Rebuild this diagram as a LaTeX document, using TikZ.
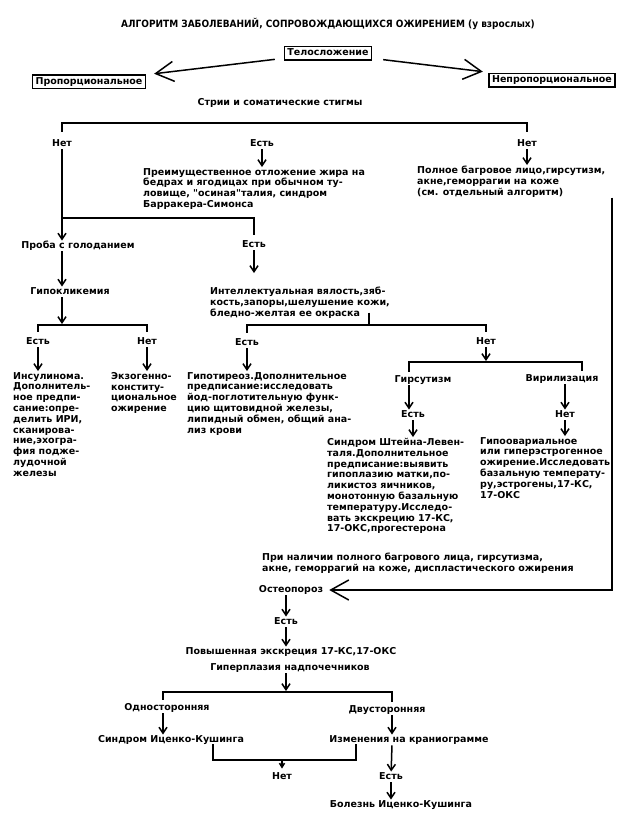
\documentclass[tikz,border=0pt]{standalone}
\usepackage{fontspec}
\setmainfont{DejaVu Sans}
\newfontfamily\schemefont{DejaVu Sans}
\newfontfamily\titlefont{DejaVu Sans Condensed}
\usetikzlibrary{arrows.meta}
\tikzset{
    % single line label
    lbl/.style={inner sep=0pt, text height=7pt, text depth=1.5pt,
        font=\schemefont\bfseries\fontsize{9.5}{10.8}\selectfont},
    % block of text, left aligned, placed by its top left corner
    blk/.style={inner sep=0pt, align=left, anchor=north west,
        font=\schemefont\bfseries\fontsize{9.5}{10.8}\selectfont},
    % framed label
    frm/.style={lbl, draw, line width=1.5pt, inner xsep=3pt, inner ysep=2.5pt},
    conn/.style={line width=1.5pt},
    arr/.style={conn, -{Straight Barb[length=6pt,width=8pt]}, shorten <=1pt, shorten >=1pt},
    bigarr/.style={conn, -{Straight Barb[length=18pt,width=20pt]}}
}
\begin{document}
\begin{tikzpicture}[x=1pt,y=-1pt]
\useasboundingbox (0,0) rectangle (622,820);

\node[lbl, font=\titlefont\bfseries\fontsize{10}{11}\selectfont] (title) at (328,25)
    {АЛГОРИТМ ЗАБОЛЕВАНИЙ, СОПРОВОЖДАЮЩИХСЯ ОЖИРЕНИЕМ (у взрослых)};
\node[frm] (body) at (328,53) {Телосложение};
\node[frm] (prop) at (89,81.5) {Пропорциональное};
\node[frm] (nonprop) at (552,80) {Непропорциональное};
\node[lbl] (striae) at (280,103) {Стрии и соматические стигмы};

\node[lbl] (no1) at (62,144) {Нет};
\node[lbl] (yes1) at (262,144) {Есть};
\node[lbl] (no2) at (527,144) {Нет};
\node[blk] (fat) at (143,168) {Преимущественное отложение жира на\\бедрах и ягодицах при обычном ту-\\ловище, "осиная"талия, синдром\\Барракера-Симонса};
\node[blk] (face) at (417,166) {Полное багровое лицо,гирсутизм,\\акне,геморрагии на коже\\(см. отдельный алгоритм)};

% left column
\node[lbl] (fast) at (78,246) {Проба с голоданием};
\node[lbl] (hypogly) at (70,292) {Гипокликемия};
\node[lbl] (yes3) at (38,342) {Есть};
\node[lbl] (no3) at (147,342) {Нет};
\node[blk] (insul) at (13,372) {Инсулинома.\\Дополнитель-\\ное предпи-\\сание:опре-\\делить ИРИ,\\сканирова-\\ние,эхогра-\\фия подже-\\лудочной\\железы};
\node[blk] (exo) at (111,372) {Экзогенно-\\конститу-\\циональное\\ожирение};

% middle column
\node[lbl] (yes2) at (254,245) {Есть};
\node[blk] (intel) at (210,287) {Интеллектуальная вялость,зяб-\\кость,запоры,шелушение кожи,\\бледно-желтая ее окраска};
\node[lbl] (yes4) at (247,343) {Есть};
\node[lbl] (no4) at (486,342) {Нет};
\node[blk] (thyro) at (187,372) {Гипотиреоз.Дополнительное\\предписание:исследовать\\йод-поглотительную функ-\\цию щитовидной железы,\\липидный обмен, общий ана-\\лиз крови};
\node[lbl] (hirs) at (423,380) {Гирсутизм};
\node[lbl] (viril) at (562,379) {Вирилизация};
\node[lbl] (yes5) at (413,415) {Есть};
\node[lbl] (no5) at (565,415) {Нет};
\node[blk] (stein) at (327,438) {Синдром Штейна-Левен-\\таля.Дополнительное\\предписание:выявить\\гипоплазию матки,по-\\ликистоз яичников,\\монотонную базальную\\температуру.Исследо-\\вать экскрецию 17-КС,\\17-ОКС,прогестерона};
\node[blk] (ovar) at (480,437) {Гипоовариальное\\или гиперэстрогенное\\ожирение.Исследовать\\базальную температу-\\ру,эстрогены,17-КС,\\17-ОКС};

% lower part
\node[blk] (note) at (262,553) {При наличии полного багрового лица, гирсутизма,\\акне, геморрагий на коже, диспластического ожирения};
\node[lbl] (osteo) at (291,590) {Остеопороз};
\node[lbl] (yes6) at (286,622) {Есть};
\node[lbl] (excr) at (291,652) {Повышенная экскреция 17-КС,17-ОКС};
\node[lbl] (adren) at (290,668) {Гиперплазия надпочечников};
\node[lbl] (uni) at (167,708) {Односторонняя};
\node[lbl] (bi) at (387,710) {Двусторонняя};
\node[lbl] (cush) at (171,740) {Синдром Иценко-Кушинга};
\node[lbl] (cranio) at (409,740) {Изменения на краниограмме};
\node[lbl] (no7) at (282,777) {Нет};
\node[lbl] (yes7) at (391,777) {Есть};
\node[lbl] (disease) at (401,805) {Болезнь Иценко-Кушинга};

% bracket corners
\coordinate (sL) at (62,123);
\coordinate (sR) at (527,123);
\coordinate (fatL) at (62,218);
\coordinate (hR) at (147,325);
\coordinate (iM) at (369,325);
\coordinate (gL) at (409,362);
\coordinate (gR) at (582,362);
\coordinate (rBot) at (612,590);
\coordinate (aL) at (163,692);
\coordinate (aR) at (392,692);
\coordinate (cL) at (213,760);
\coordinate (cR) at (356,760);

\draw[bigarr, shorten <=9pt, shorten >=8pt] (body) -- (prop);
\draw[bigarr, shorten <=11pt, shorten >=7pt] (body) -- (nonprop);

\draw[conn] ([yshift=8pt]no1.north) -- (sL) -- (sR) -- ([yshift=8pt]no2.north);
\draw[arr] (no1) -- (no1 |- fast.north);
\draw[arr] (yes1) -- (yes1 |- fat.north);
\draw[arr] (no2) -- (no2 |- face.north);

\draw[conn] (fatL) -| ([yshift=6pt]yes2.north);
\draw[arr, shorten >=14pt] (yes2) -- (yes2 |- intel.north);

\draw[arr] (fast.south -| no1) -- (hypogly.north -| no1);
\draw[arr] (hypogly.south -| no1) -- (no1 |- hR);
\draw[conn] ([yshift=6pt]yes3.north) |- (hR) -- ([yshift=6pt]no3.north);
\draw[arr] (yes3) -- (yes3 |- insul.north);
\draw[arr] (no3) -- (no3 |- exo.north);

\draw[conn] ([yshift=6pt]intel.south -| iM) -- (iM);
\draw[conn] ([yshift=6pt]yes4.north) |- (no4 |- iM) -- ([yshift=6pt]no4.north);
\draw[arr] (yes4) -- (yes4 |- thyro.north);
\draw[arr] (no4) -- (no4 |- gL);
\draw[conn] ([yshift=4pt]hirs.north -| gL) -- (gL) -- (gR) -- ([yshift=4pt]viril.north -| gR);
\draw[arr] (hirs.south -| gL) -- (yes5.north -| gL);
\draw[arr] (yes5) -- (yes5 |- stein.north);
\draw[arr] (viril.south -| no5) -- (no5);
\draw[arr] (no5) -- (no5 |- ovar.north);

\draw[bigarr, shorten >=6pt] (face.south -| rBot) -- (rBot) -- (osteo);

\draw[arr] (osteo.south -| yes6) -- (yes6);
\draw[arr] (yes6) -- (yes6 |- excr.north);
\draw[arr] (adren.south -| yes6) -- (yes6 |- aL);
\draw[conn] ([yshift=4pt]uni.north -| aL) -- (aL) -- (aR) -- ([yshift=4pt]bi.north -| aR);
\draw[arr] (uni.south -| aL) -- (cush.north -| aL);
\draw[arr] (bi.south -| aR) -- (cranio.north -| aR);
\draw[conn] (cush.south -| cL) -- (cL) -- (cR) -- (cranio.south -| cR);
\draw[conn, -{Straight Barb[length=4pt,width=5pt]}, shorten >=4pt] (no7 |- cL) -- (no7);
\draw[arr] (cranio.south -| aR) -- (yes7);
\draw[arr] (yes7) -- (yes7 |- disease.north);
\end{tikzpicture}
\end{document}
